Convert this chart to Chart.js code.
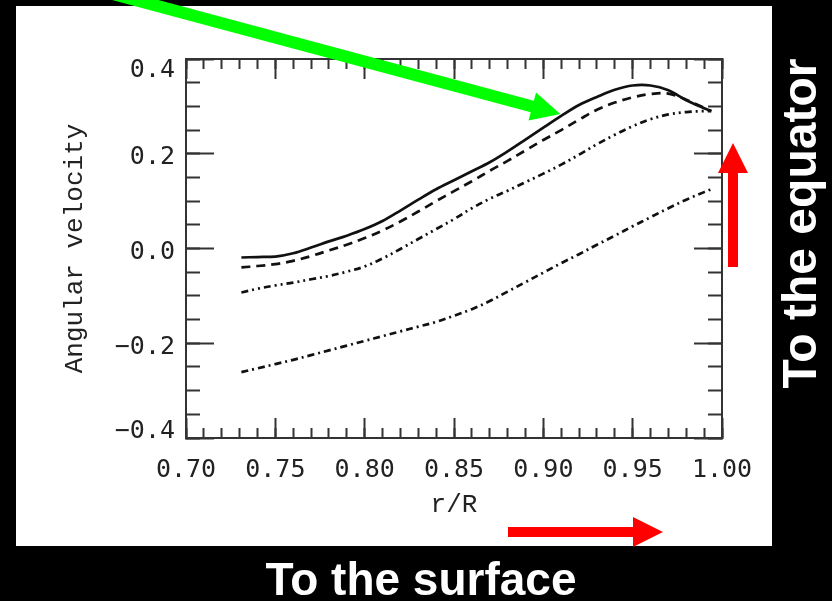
<!DOCTYPE html>
<html>
<head>
<meta charset="utf-8">
<script src="https://cdn.jsdelivr.net/npm/chart.js@4/dist/chart.umd.min.js"></script>
<style>
html,body{margin:0;padding:0;background:#000;overflow:hidden}
#wrap{width:832px;height:601px;position:relative}
canvas{display:block}
</style>
</head>
<body>
<div id="wrap"><canvas id="c" width="832" height="601"></canvas></div>
<script>
// ---- data ----
const radius = [0.731,0.74,0.75,0.76,0.77,0.78,0.79,0.80,0.81,0.82,0.83,0.84,0.85,0.86,0.87,0.88,0.89,0.90,0.91,0.92,0.93,0.94,0.95,0.96,0.97,0.98,0.99,0.994];
const solidCurve = [-0.019,-0.018,-0.017,-0.010,0.002,0.015,0.027,0.041,0.058,0.080,0.103,0.125,0.144,0.163,0.182,0.205,0.230,0.255,0.280,0.303,0.320,0.335,0.344,0.344,0.334,0.313,0.296,0.290];
const dashedCurve = [-0.040,-0.037,-0.033,-0.026,-0.016,-0.004,0.008,0.022,0.038,0.057,0.078,0.100,0.121,0.142,0.164,0.185,0.207,0.229,0.250,0.272,0.293,0.308,0.319,0.326,0.327,0.314,0.297,0.290];
const dashDotDotCurve = [-0.093,-0.085,-0.078,-0.072,-0.065,-0.058,-0.049,-0.038,-0.021,-0.001,0.020,0.041,0.062,0.085,0.105,0.122,0.140,0.158,0.177,0.198,0.220,0.240,0.258,0.273,0.283,0.288,0.290,0.290];
const dashDotCurve = [-0.261,-0.253,-0.244,-0.235,-0.225,-0.215,-0.205,-0.195,-0.185,-0.175,-0.165,-0.155,-0.142,-0.128,-0.111,-0.091,-0.071,-0.051,-0.031,-0.012,0.008,0.027,0.047,0.066,0.085,0.103,0.119,0.125];

const xTickLabels = ['0.70','0.75','0.80','0.85','0.90','0.95','1.00'];
const yTickLabels = ['\u22120.4','\u22120.2','0.0','0.2','0.4'];
const xTitle = 'r/R';
const yTitle = 'Angular velocity';
const surfaceText = 'To the surface';
const equatorText = 'To the equator';
const arrowTarget = {r: 0.9095, v: 0.284};

// ---- styling ----
const ink = '#333';
const textInk = '#222';
const tickFontFamily = "'DejaVu Sans Mono', monospace";
const titleFontFamily = "'Liberation Mono', 'Courier New', monospace";

function pts(ys){ return radius.map((r,i)=>({x:r, y:ys[i]})); }

function tickAxis(opts){
  return Object.assign({
    type:'linear',
    ticks:{display:false},
    grid:{drawOnChartArea:false, drawTicks:true, color:ink, tickColor:ink, tickWidth:2},
    border:{display:false}
  }, opts);
}

const decor = {
  id:'decor',
  beforeDraw(chart){
    const c = chart.ctx;
    c.save();
    c.fillStyle = '#000';
    c.fillRect(0,0,chart.width,chart.height);
    c.fillStyle = '#fff';
    c.fillRect(16,6,756,540);
    c.restore();
  },
  afterDraw(chart){
    const c = chart.ctx;
    const xs = chart.scales.x, ys = chart.scales.y;
    function arrow(x0,y0,x1,y1,shaftW,headLen,headHalf,color){
      const dx=x1-x0, dy=y1-y0, L=Math.hypot(dx,dy);
      const ux=dx/L, uy=dy/L, nx=-uy, ny=ux;
      const bx=x1-ux*headLen, by=y1-uy*headLen;
      c.save();
      c.fillStyle=color;
      c.beginPath();
      c.moveTo(x0+nx*shaftW/2, y0+ny*shaftW/2);
      c.lineTo(bx+nx*shaftW/2, by+ny*shaftW/2);
      c.lineTo(bx+nx*headHalf, by+ny*headHalf);
      c.lineTo(x1,y1);
      c.lineTo(bx-nx*headHalf, by-ny*headHalf);
      c.lineTo(bx-nx*shaftW/2, by-ny*shaftW/2);
      c.lineTo(x0-nx*shaftW/2, y0-ny*shaftW/2);
      c.closePath();
      c.fill();
      c.restore();
    }
    // green arrow pointing at the solid curve
    const tx = xs.getPixelForValue(arrowTarget.r), ty = ys.getPixelForValue(arrowTarget.v);
    const ux = 0.966, uy = 0.259;
    arrow(tx-ux*600, ty-uy*600, tx, ty, 12, 29, 14.5, '#00ff00');
    // red arrows
    arrow(733, 267, 733, 143, 10, 30, 15, '#ff0000');
    arrow(508, 532, 663, 532, 10, 30, 15, '#ff0000');
    // captions
    c.save();
    c.fillStyle = '#fff';
    c.font = "bold 46px 'Liberation Sans', Arial, sans-serif";
    c.textAlign = 'center';
    c.textBaseline = 'alphabetic';
    c.fillText(surfaceText, 421, 595);
    c.translate(816, 223.5);
    c.rotate(-Math.PI/2);
    c.font = "bold 48px 'Liberation Sans', Arial, sans-serif";
    c.fillText(equatorText, 0, 0);
    c.restore();
  }
};

const lineBase = {borderColor:'#111', borderWidth:2.7, pointRadius:0, fill:false, tension:0.35, xAxisID:'x', yAxisID:'y'};

new Chart(document.getElementById('c'), {
  type:'line',
  data:{
    datasets:[
      Object.assign({label:'solid', data:pts(solidCurve), borderDash:[]}, lineBase),
      Object.assign({label:'dashed', data:pts(dashedCurve), borderDash:[9,6]}, lineBase),
      Object.assign({label:'dash-dot-dot', data:pts(dashDotDotCurve), borderDash:[7,4,2,4,2,4]}, lineBase),
      Object.assign({label:'dash-dot', data:pts(dashDotCurve), borderDash:[7,4,2,4]}, lineBase)
    ]
  },
  options:{
    responsive:false,
    animation:false,
    devicePixelRatio:1,
    layout:{padding:{top:59, right:110, bottom:0, left:0}},
    plugins:{legend:{display:false}, tooltip:{enabled:false}},
    scales:{
      x: tickAxis({
        axis:'x', position:'bottom', weight:1, min:0.70, max:1.00,
        ticks:{display:true, stepSize:0.05, autoSkip:false, maxRotation:0, padding:37, color:textInk,
               font:{family:tickFontFamily, size:25}, callback:(v,i)=>xTickLabels[i]},
        grid:{drawOnChartArea:false, drawTicks:true, tickLength:-20, color:ink, tickColor:ink, tickWidth:2},
        border:{display:true, color:ink, width:2},
        title:{display:true, text:xTitle, color:textInk, font:{family:titleFontFamily, size:26}, padding:{top:0, bottom:80}},
        afterFit:s=>{s.height=163;}
      }),
      xMinor: tickAxis({
        axis:'x', position:'bottom', weight:0, min:0.70, max:1.00,
        ticks:{display:false, stepSize:0.01},
        grid:{drawOnChartArea:false, drawTicks:true, tickLength:-10, color:ink, tickColor:ink, tickWidth:2},
        afterFit:s=>{s.height=0;}
      }),
      xTop: tickAxis({
        axis:'x', position:'top', weight:1, min:0.70, max:1.00,
        ticks:{display:false, stepSize:0.05},
        grid:{drawOnChartArea:false, drawTicks:true, tickLength:-20, color:ink, tickColor:ink, tickWidth:2},
        border:{display:true, color:ink, width:2},
        afterFit:s=>{s.height=0;}
      }),
      xTopMinor: tickAxis({
        axis:'x', position:'top', weight:0, min:0.70, max:1.00,
        ticks:{display:false, stepSize:0.01},
        grid:{drawOnChartArea:false, drawTicks:true, tickLength:-10, color:ink, tickColor:ink, tickWidth:2},
        afterFit:s=>{s.height=0;}
      }),
      y: tickAxis({
        axis:'y', position:'left', weight:1, min:-0.4, max:0.4,
        ticks:{display:true, stepSize:0.2, padding:39, labelOffset:4, color:textInk,
               font:(ctx)=>({family:tickFontFamily, size:25,
                 lineHeight: ctx.index===4 ? '14px' : (ctx.index===0 ? '22px' : 1.2)}),
               callback:(v,i)=> i===4 ? ['', yTickLabels[i]] : (i===0 ? [yTickLabels[i], ''] : yTickLabels[i])},
        grid:{drawOnChartArea:false, drawTicks:true, tickLength:-28, color:ink, tickColor:ink, tickWidth:2},
        border:{display:true, color:ink, width:2},
        title:{display:true, text:yTitle, color:textInk, font:{family:titleFontFamily, size:26}, padding:{top:60, bottom:0}},
        afterFit:s=>{s.width=186;}
      }),
      yMinor: tickAxis({
        axis:'y', position:'left', weight:0, min:-0.4, max:0.4,
        ticks:{display:false, stepSize:0.05},
        grid:{drawOnChartArea:false, drawTicks:true, tickLength:-14, color:ink, tickColor:ink, tickWidth:2},
        afterFit:s=>{s.width=0;}
      }),
      yRight: tickAxis({
        axis:'y', position:'right', weight:1, min:-0.4, max:0.4,
        ticks:{display:false, stepSize:0.2},
        grid:{drawOnChartArea:false, drawTicks:true, tickLength:-28, color:ink, tickColor:ink, tickWidth:2},
        border:{display:true, color:ink, width:2},
        afterFit:s=>{s.width=0;}
      }),
      yRightMinor: tickAxis({
        axis:'y', position:'right', weight:0, min:-0.4, max:0.4,
        ticks:{display:false, stepSize:0.05},
        grid:{drawOnChartArea:false, drawTicks:true, tickLength:-14, color:ink, tickColor:ink, tickWidth:2},
        afterFit:s=>{s.width=0;}
      })
    }
  },
  plugins:[decor]
});
</script>
</body>
</html>
